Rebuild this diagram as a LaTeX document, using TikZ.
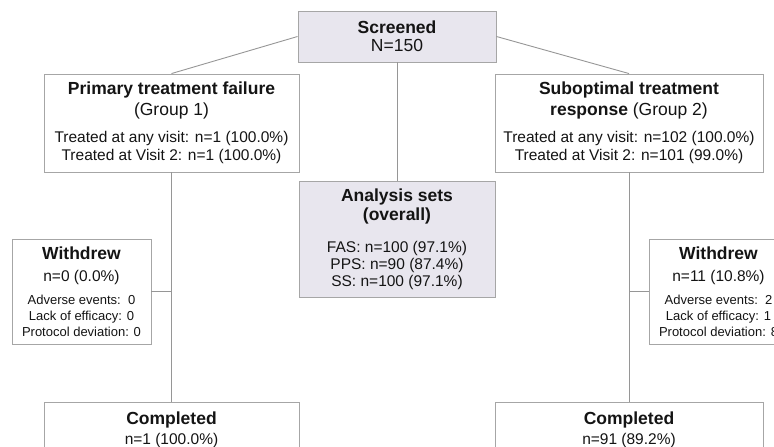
\documentclass[tikz,border=0pt]{standalone}
\usepackage{fontspec}
\setmainfont{Liberation Sans}
\usetikzlibrary{calc}

\definecolor{boxline}{RGB}{166,166,166}
\definecolor{linkline}{RGB}{150,150,150}
\definecolor{setfill}{RGB}{232,230,238}
\definecolor{ink}{RGB}{20,20,20}
\newcommand{\hdfont}{\fontsize{17.5}{21}\selectfont}
\newcommand{\txtfont}{\fontsize{15.5}{18}\selectfont}
\newcommand{\smfont}{\fontsize{13}{16}\selectfont}

\begin{document}
\begin{tikzpicture}[x=1pt,y=-1pt,font=\txtfont,text=ink,
  box/.style={draw=boxline,line width=0.9pt,fill=white,align=center,inner sep=0pt},
  setbox/.style={box,fill=setfill},
  link/.style={draw=linkline,line width=0.9pt}]
  \useasboundingbox (0,0) rectangle (774,447);
  \clip (0,0) rectangle (774,447);
  % top and middle column
  \node[setbox,minimum width=198pt,minimum height=51pt] (screen) at (397,36.5)
    {{\hdfont\bfseries Screened}\\{\hdfont N=150}};
  \node[setbox,minimum width=196pt,minimum height=116pt] (sets) at (397,239)
    {{\hdfont\bfseries Analysis sets}\\[1pt]{\hdfont\bfseries (overall)}\\[14pt]
     FAS: n=100 (97.1\%)\\[-1pt]PPS: n=90 (87.4\%)\\[-1pt]SS: n=100 (97.1\%)};
  % group 1
  \node[box,minimum width=255pt,minimum height=98pt] (grpA) at (171.5,123)
    {{\hdfont\bfseries Primary treatment failure}\\[3pt]{\hdfont (Group 1)}\\[9pt]
     Treated at any visit: n=1 (100.0\%)\\Treated at Visit 2: n=1 (100.0\%)};
  \node[box,minimum width=139pt,minimum height=105pt] (wdA) at (81.5,291.5)
    {{\hdfont\bfseries Withdrew}\\[4pt]n=0 (0.0\%)\\[5pt]
     {\smfont Adverse events:\ \ 0}\\[-2pt]{\smfont Lack of efficacy: 0}\\[-2pt]{\smfont Protocol deviation: 0}};
  \node[box,minimum width=255pt,minimum height=55pt] (doneA) at (171.5,429.5)
    {{\hdfont\bfseries Completed}\\[2pt]n=1 (100.0\%)};
  % group 2
  \node[box,minimum width=268pt,minimum height=98pt] (grpB) at (629,123)
    {{\hdfont\bfseries Suboptimal treatment}\\[3pt]{\hdfont\textbf{response} (Group 2)}\\[9pt]
     Treated at any visit: n=102 (100.0\%)\\Treated at Visit 2: n=101 (99.0\%)};
  \node[box,minimum width=139pt,minimum height=105pt] (wdB) at (718.5,291.5)
    {{\hdfont\bfseries Withdrew}\\[4pt]n=11 (10.8\%)\\[5pt]
     {\smfont Adverse events:\ \ 2}\\[-2pt]{\smfont Lack of efficacy: 1}\\[-2pt]{\smfont Protocol deviation: 8}};
  \node[box,minimum width=268pt,minimum height=55pt] (doneB) at (629,429.5)
    {{\hdfont\bfseries Completed}\\[2pt]n=91 (89.2\%)};
  % connectors
  \path[link] (screen.west) -- (grpA.north);
  \path[link] (screen.east) -- (grpB.north);
  \path[link] (screen.south) -- (sets.north);
  \path[link] (grpA.south) -- (doneA.north);
  \path[link] (grpB.south) -- (doneB.north);
  \path[link] (wdA.east) -- (wdA.east -| grpA.south);
  \path[link] (wdB.west) -- (wdB.west -| grpB.south);
\end{tikzpicture}
\end{document}
